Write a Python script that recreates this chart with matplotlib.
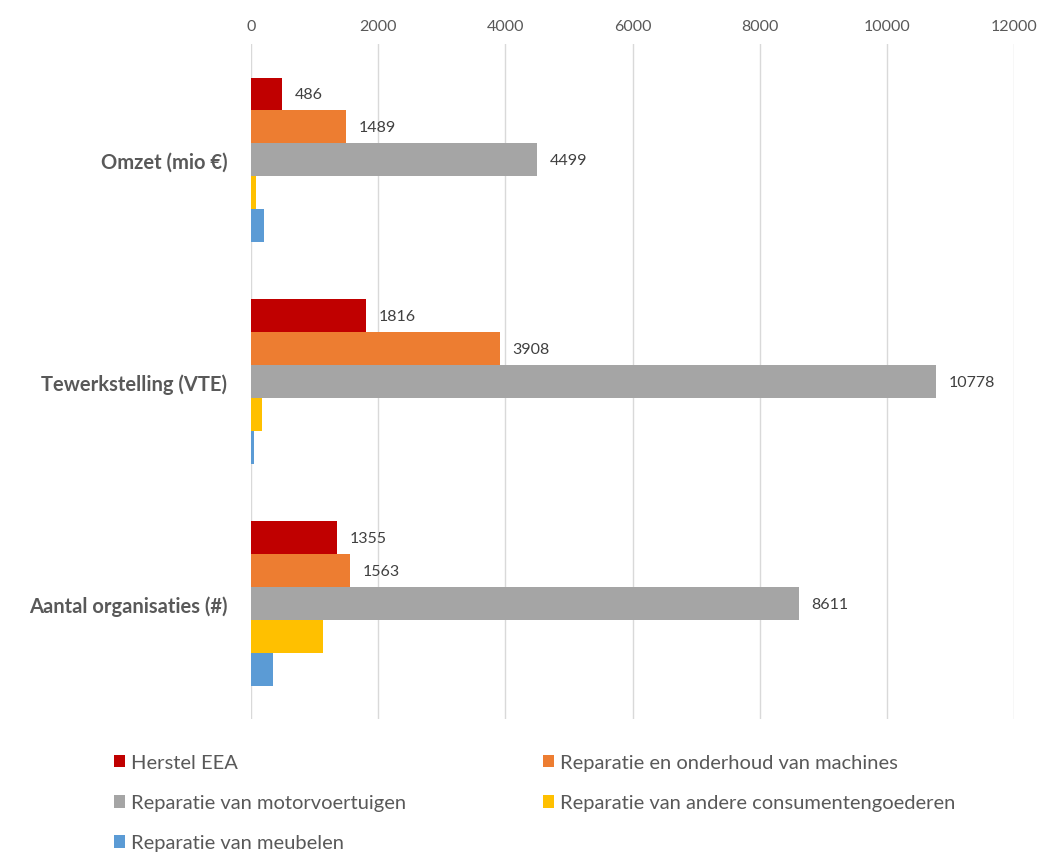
import numpy as np
import matplotlib.pyplot as plt

plt.rcParams['font.family'] = ['Lato', 'DejaVu Sans']

categories = ['Omzet (mio €)', 'Tewerkstelling (VTE)', 'Aantal organisaties (#)']
series = ['Herstel EEA', 'Reparatie en onderhoud van machines',
          'Reparatie van motorvoertuigen', 'Reparatie van andere consumentengoederen',
          'Reparatie van meubelen']
herstel_eea = [486, 1816, 1355]
machines = [1489, 3908, 1563]
motorvoertuigen = [4499, 10778, 8611]
consumentengoederen = [80, 170, 1130]
meubelen = [210, 40, 340]
colors = ['#C00000', '#ED7D31', '#A5A5A5', '#FFC000', '#5B9BD5']
labelled = [True, True, True, False, False]

values = [herstel_eea, machines, motorvoertuigen, consumentengoederen, meubelen]

fig = plt.figure(figsize=(10.39, 8.53), dpi=100)
ax = fig.add_axes([0.2416, 0.156, 0.7344, 0.791])

y = np.arange(len(categories))
h = 0.148
for i, (vals, col) in enumerate(zip(values, colors)):
    pos = y + (i - 2) * h
    ax.barh(pos, vals, height=h, color=col, label=series[i], zorder=3)
    if labelled[i]:
        for p, v in zip(pos, vals):
            ax.annotate(str(v), (v, p), xytext=(9, 0), textcoords='offset points',
                        va='center', ha='left', fontsize=11.5, color='#404040')

ax.set_ylim(2.52, -0.52)
ax.set_xlim(0, 12000)
ax.set_xticks(np.arange(0, 12001, 2000))
ax.xaxis.tick_top()
ax.tick_params(axis='x', length=0, labelsize=11.5, labelcolor='#595959', pad=8)
ax.tick_params(axis='y', length=0, labelsize=14.5, labelcolor='#595959', pad=17)
ax.set_yticks(y)
ax.set_yticklabels(categories, fontweight='bold')
ax.grid(axis='x', color='#D9D9D9', linewidth=1, zorder=0)
for s in ax.spines.values():
    s.set_visible(False)

order = [0, 2, 4, 1, 3]
handles, labels = ax.get_legend_handles_labels()
fig.legend([handles[k] for k in order], [labels[k] for k in order],
           loc='upper left', bbox_to_anchor=(0.092, 0.136), ncol=2, frameon=False,
           fontsize=14.5, labelcolor='#595959', handlelength=0.55, handleheight=0.6,
           handletextpad=0.3, columnspacing=6.8, labelspacing=1.15)

fig.savefig('out.png', dpi=100)
